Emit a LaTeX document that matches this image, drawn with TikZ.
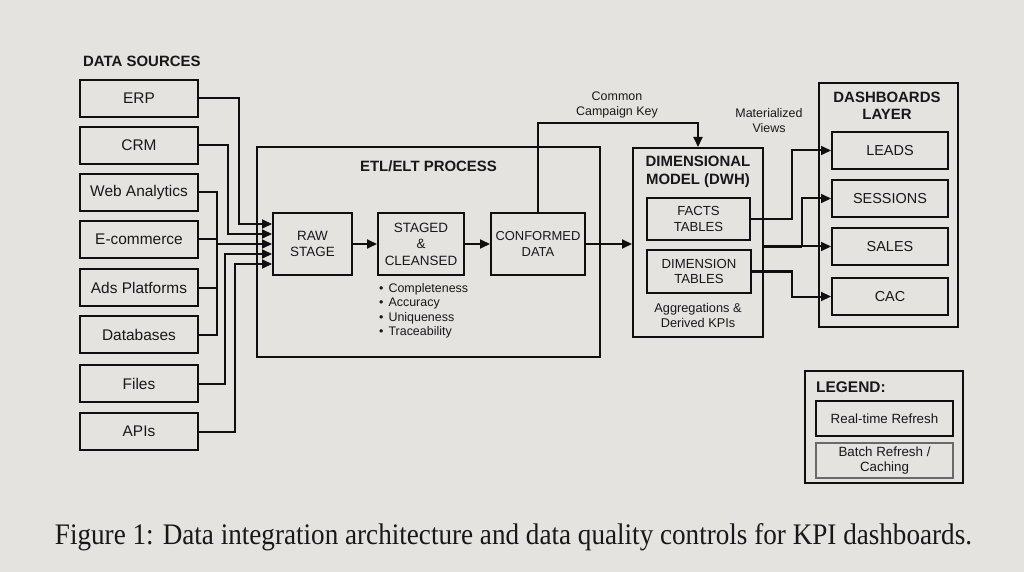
\documentclass[tikz,border=0pt]{standalone}
\usepackage{fontspec}
\setmainfont{Liberation Sans}
\newfontfamily\capfont{Liberation Serif}
\usetikzlibrary{arrows.meta,calc}
\definecolor{paper}{RGB}{229,227,224}
\definecolor{txt}{RGB}{24,24,24}
\definecolor{ink}{RGB}{15,15,15}
\definecolor{grayline}{RGB}{105,105,105}
\begin{document}
\begin{tikzpicture}[x=1bp,y=-1bp,
  box/.style={draw=ink, line width=2bp, align=center, inner sep=0pt, text=txt},
  src/.style={box, minimum width=118bp, minimum height=37bp, font=\fontsize{15.5}{17}\selectfont},
  etlbox/.style={box, font=\fontsize{13.5}{16.5}\selectfont},
  tbl/.style={box, minimum width=103bp, minimum height=42bp, font=\fontsize{13.2}{15.5}\selectfont},
  dashbox/.style={box, minimum width=116bp, minimum height=37bp, font=\fontsize{14.5}{17}\selectfont},
  legbox/.style={box, minimum width=137bp, minimum height=35bp, font=\fontsize{13.4}{15}\selectfont},
  frame/.style={draw=ink, line width=2bp},
  title/.style={font=\bfseries\fontsize{15}{17.5}\selectfont, text=txt, align=center, inner sep=0pt},
  small/.style={font=\fontsize{12.5}{15}\selectfont, text=txt, align=center, inner sep=0pt},
  line/.style={draw=ink, line width=2bp},
  arr/.style={line, -{Triangle[length=10bp,width=9bp]}}
]
\fill[paper] (0,0) rectangle (1024,572);
\useasboundingbox (0,0) rectangle (1024,572);

% ---------- Data sources ----------
\node[title, anchor=west] (dstitle) at (83,61) {DATA SOURCES};
\node[src] (erp)  at (139,98.5)  {ERP};
\node[src] (crm)  at (139,145.5) {CRM};
\node[src] (web)  at (139,192.5) {Web Analytics};
\node[src] (ecom) at (139,239.5) {E-commerce};
\node[src] (ads)  at (139,287.5) {Ads Platforms};
\node[src] (db)   at (139,334.5) {Databases};
\node[src] (files) at (139,383.5) {Files};
\node[src] (apis) at (139,431.5) {APIs};

% ---------- ETL ----------
\draw[frame] (257,147) rectangle (600,357);
\node[title] (etltitle) at (428.5,166) {ETL/ELT PROCESS};
\node[etlbox, minimum width=79bp, minimum height=62bp] (raw) at (312.5,244) {RAW\\STAGE};
\node[etlbox, minimum width=86bp, minimum height=62bp] (stg) at (421,244) {STAGED\\\&\\CLEANSED};
\node[etlbox, minimum width=94bp, minimum height=62bp, font=\fontsize{13}{16.5}\selectfont] (conf) at (538,244) {CONFORMED\\DATA};
\node[small, anchor=north west, align=left, font=\fontsize{12.5}{14.6}\selectfont] (dq) at (379,283)
  {•\hspace{5pt}Completeness\\•\hspace{5pt}Accuracy\\•\hspace{5pt}Uniqueness\\•\hspace{5pt}Traceability};

% source connectors
\draw[arr] (erp.east) -| ($(raw.west)+(-33,-20)$) -- ($(raw.west)+(0,-20)$);
\draw[arr] (crm.east) -| ($(raw.west)+(-44,-10)$) -- ($(raw.west)+(0,-10)$);
\draw[arr] (web.east) -| ($(raw.west)+(-55,0)$) -- (raw.west);
\draw[line] (ecom.east) -- (ecom.east -| {$(raw.west)+(-55,0)$});
\draw[line] (ads.east) -- (ads.east -| {$(raw.west)+(-55,0)$});
\draw[line] (db.east) -| ($(raw.west)+(-55,0)$);
\draw[arr] (files.east) -| ($(raw.west)+(-47,10)$) -- ($(raw.west)+(0,10)$);
\draw[arr] (apis.east) -| ($(raw.west)+(-37,20)$) -- ($(raw.west)+(0,20)$);

% ETL flow
\draw[arr] (raw.east) -- (stg.west);
\draw[arr] (stg.east) -- (conf.west);

% ---------- DWH ----------
\node[box, minimum width=130bp, minimum height=189bp] (dwh) at (698,242.5) {};
\node[title, font=\bfseries\fontsize{15}{18}\selectfont] (dwhtitle) at (698,172) {DIMENSIONAL\\MODEL (DWH)};
\node[tbl] (facts) at (698.5,219) {FACTS\\TABLES};
\node[tbl, minimum width=104bp, minimum height=43bp] (dim) at (699,271.5) {DIMENSION\\TABLES};
\node[small, font=\fontsize{12.8}{15}\selectfont] (agg) at (698,315.5) {Aggregations \&\\Derived KPIs};

\draw[arr] (conf.east) -- (dwh.west |- conf.east);
\draw[arr] (conf.north) -- ++(0,-89) -| (dwh.north);
\node[small] (cck) at (617,104.5) {Common\\Campaign Key};
\node[small] (mv) at (769,120.5) {Materialized\\Views};

% ---------- Dashboards ----------
\draw[frame] (819,83) rectangle (958,327);
\node[title, font=\bfseries\fontsize{15}{17}\selectfont] (dbtitle) at (887,105.5) {DASHBOARDS\\LAYER};
\node[dashbox] (leads) at (890,150.5) {LEADS};
\node[dashbox] (sess) at (890,198.5) {SESSIONS};
\node[dashbox] (sales) at (890,246.5) {SALES};
\node[dashbox] (cac) at (890,296.5) {CAC};

\draw[arr] (facts.east) -| ($(leads.west)+(-39,0)$) -- (leads.west);
\draw[line, line width=3bp] (dwh.east |- sales.west) -- ($(sales.west)+(-29,0)$);
\draw[arr] (dwh.east |- sales.west) -- (sales.west);
\draw[arr] ($(sales.west)+(-29,0)$) |- (sess.west);
\draw[arr] (dim.east) -| ($(cac.west)+(-39,0)$) -- (cac.west);

% ---------- Legend ----------
\draw[frame] (805,371) rectangle (963,483);
\node[title, anchor=west, font=\bfseries\fontsize{15.5}{17}\selectfont] (legt) at (816,387) {LEGEND:};
\node[legbox] (rt) at (884.5,418.5) {Real-time Refresh};
\node[legbox, draw=grayline, font=\fontsize{13.4}{14.5}\selectfont] (bt) at (884.5,460.5) {Batch Refresh /\\Caching};

% ---------- Caption ----------
\node[inner sep=0pt, text=txt] (cap) at (513.5,537) {\resizebox{917bp}{21bp}{\capfont Figure 1: Data integration architecture and data quality controls for KPI dashboards.}};
\end{tikzpicture}
\end{document}
